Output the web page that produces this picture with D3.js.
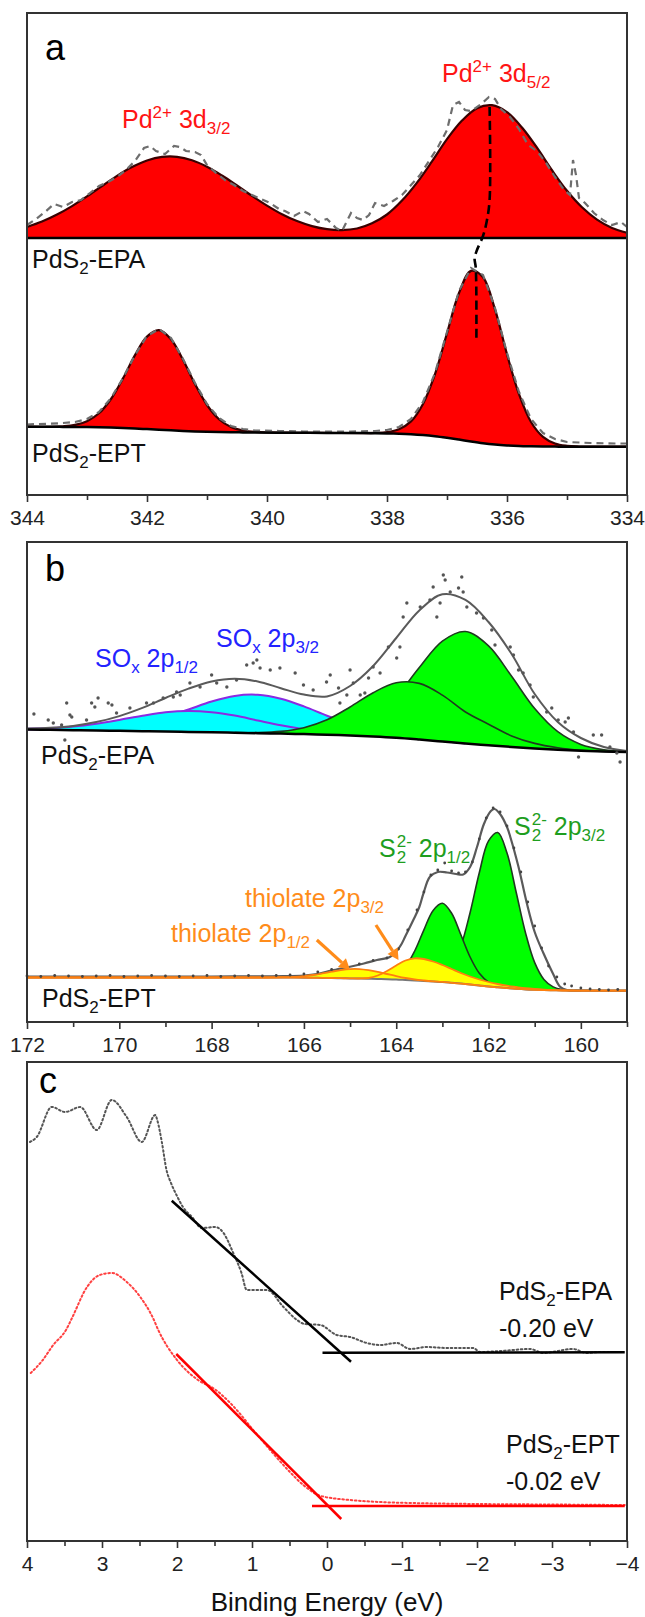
<!DOCTYPE html>
<html>
<head>
<meta charset="utf-8">
<script src="https://cdn.jsdelivr.net/npm/d3@7"></script>
<style>
  body { margin: 0; background: #fff; }
  svg { display: block; font-family: "Liberation Sans", Arial, sans-serif; }
  text { white-space: pre; }
</style>
</head>
<body>
<div id="chart"></div>
<script>
// ---- データ（強度は任意単位）----

// パネルa: Pd 3d
var aTicks = [344, 342, 340, 338, 336, 334];
var aMinor = [343, 341, 339, 337, 335];
var aEpaBase = [[344, 257], [334, 257]];
var aEpaFit = [[344, 268], [343.75, 273.4], [343.5, 280.4], [343.25, 288.9], [343, 298.6], [342.75, 309], [342.5, 319.1],
  [342.25, 327.9], [342, 334.5], [341.75, 338.1], [341.5, 338.2], [341.25, 334.8], [341, 328.3], [340.75, 319.5],
  [340.5, 309.5], [340.25, 299.1], [340, 289.4], [339.75, 280.8], [339.5, 273.9], [339.25, 268.9], [339, 265.8],
  [338.75, 264.9], [338.5, 266.5], [338.25, 271.7], [338, 280.5], [337.75, 294.4], [337.5, 312.4], [337.25, 333.6],
  [337, 355.8], [336.75, 374.4], [336.5, 386.8], [336.25, 389.8], [336, 382.9], [335.75, 367.5], [335.5, 347.3],
  [335.25, 324.8], [335, 304.2], [334.75, 287.7], [334.5, 275.4], [334.25, 267.1], [334, 262.3]];
var aEpaRaw = [[344, 270], [343.85, 276], [343.7, 283], [343.55, 291], [343.4, 288], [343.25, 293], [343.1, 295],
  [342.95, 302], [342.8, 309], [342.65, 313], [342.5, 318], [342.35, 325], [342.2, 334], [342.05, 347], [341.95, 349],
  [341.85, 344], [341.7, 341], [341.55, 349], [341.45, 348], [341.35, 344], [341.2, 343], [341.1, 340], [341, 330],
  [340.85, 322], [340.7, 315], [340.55, 310], [340.4, 304], [340.25, 300], [340.1, 296], [339.95, 292], [339.8, 286],
  [339.7, 284], [339.55, 279], [339.4, 284], [339.3, 281], [339.15, 273], [339, 276], [338.85, 267], [338.75, 264],
  [338.6, 282], [338.5, 277], [338.4, 275], [338.3, 280], [338.2, 292], [338.05, 289], [337.9, 294], [337.75, 300],
  [337.6, 310], [337.45, 320], [337.3, 334], [337.15, 348], [337, 365], [336.9, 390], [336.8, 393], [336.7, 385],
  [336.6, 384], [336.45, 390], [336.3, 398], [336.2, 396], [336.1, 386], [335.95, 378], [335.8, 366], [335.65, 350],
  [335.5, 344], [335.35, 332], [335.2, 318], [335.05, 305], [334.95, 300], [334.9, 335], [334.85, 320], [334.8, 297],
  [334.7, 292], [334.55, 282], [334.4, 275], [334.25, 270], [334.1, 273], [334, 268]];
var aEptE = [344, 343.6, 343.4, 343.2, 343, 342.8, 342.6, 342.4, 342.2, 342, 341.8, 341.6, 341.4, 341.2, 341, 340.8,
  340.6, 340.4, 340.2, 339.6, 339, 338.4, 338.2, 338, 337.8, 337.6, 337.4, 337.2, 337, 336.8, 336.6, 336.4, 336.2,
  336, 335.8, 335.6, 335.4, 335.2, 335, 334.8, 334.4, 334];
var aEptBase = [68.3, 68.2, 68.1, 68.0, 67.9, 67.7, 67.4, 67.0, 66.5, 65.9, 65.3, 64.7, 64.1, 63.6, 63.2, 62.9, 62.7,
  62.6, 62.5, 62.3, 62.1, 61.9, 61.8, 61.6, 61.3, 60.8, 60.0, 58.8, 57.2, 55.4, 53.5, 51.8, 50.5, 49.6, 49.0, 48.7,
  48.5, 48.4, 48.3, 48.3, 48.3, 48.3];
var aEptFit = [68.3, 68.2, 68.7, 70.1, 73.8, 81.7, 96.0, 116.6, 139.9, 158.4, 164.8, 155.7, 135.2, 110.9, 90.0, 75.8,
  68.0, 64.5, 63.1, 62.3, 62.1, 61.9, 62.1, 62.9, 65.8, 73.6, 91.1, 120.9, 161.8, 202.0, 224.1, 217.7, 185.6, 140.7,
  100.8, 73.0, 58.2, 51.5, 49.2, 48.5, 48.3, 48.3];
var aEptRaw = [[344, 70.5], [343.8, 71], [343.6, 71.3], [343.4, 72], [343.2, 73], [343, 76], [342.8, 83], [342.6, 97],
  [342.4, 117], [342.2, 140], [342, 159], [341.8, 166], [341.6, 157], [341.4, 136], [341.2, 112], [341, 91],
  [340.8, 77], [340.6, 69], [340.4, 66], [340.2, 64.5], [339.8, 64], [339.4, 63.5], [339, 63.5], [338.6, 63.5],
  [338.2, 64], [338, 65], [337.8, 68], [337.6, 76], [337.4, 93], [337.2, 122], [337, 163], [336.8, 204], [336.6, 227],
  [336.4, 220], [336.2, 187], [336, 142], [335.8, 103], [335.6, 76], [335.4, 62], [335.2, 56], [335, 53], [334.6, 52],
  [334.2, 51.5], [334, 51.5]];
// ピークシフトを示す破線
var aShift = [[336.29, 388], [336.29, 295], [336.34, 273], [336.40, 259], [336.50, 245], [336.54, 237],
  [336.52, 227], [336.51, 157]];

// パネルb: S 2p
var bTicks = [172, 170, 168, 166, 164, 162, 160];
var bMinor = [171, 169, 167, 165, 163, 161, 159];
var bEpaE = [172, 171.5, 171, 170.5, 170, 169.5, 169, 168.5, 168, 167.5, 167, 166.5, 166, 165.5, 165, 164.5, 164,
  163.5, 163, 162.5, 162, 161.5, 161, 160.5, 160, 159.5, 159];
var bEpaBase = [292.5, 292.2, 291.8, 291.5, 291.2, 290.8, 290.5, 290.1, 289.7, 289.3, 288.8, 288.4, 287.9, 287.3,
  286.6, 285.6, 284.3, 282.5, 280.5, 278.5, 276.8, 275.1, 273.6, 272.3, 271.2, 270.5, 270.1];
var bEpaSox32 = [292.5, 292.4, 292.4, 293.1, 295.0, 298.7, 304.8, 312.5, 320.5, 326.1, 327.2, 323.3, 315.6, 306.3,
  298.0, 291.6, 287.0, 283.6, 280.9, 278.6, null, null, null, null, null, null, null];
var bEpaSox12 = [293.3, 294.0, 295.5, 298.3, 302.1, 306.2, 309.7, 311.0, 309.8, 306.4, 301.5, 296.7, 292.8, 289.8,
  287.7, 286.0, 284.5, null, null, null, null, null, null, null, null, null, null];
var bEpaS32 = [null, null, null, null, null, null, null, null, null, null, null, null, 288.4, 289.2, 293.3, 304.0,
  325.2, 354.4, 380.9, 390.5, 376.1, 345.7, 313.4, 290.3, 277.6, 272.3, 270.5];
var bEpaS12 = [null, null, null, null, null, null, null, null, null, 289.4, 289.4, 290.6, 294.3, 302.2, 315.0, 329.3,
  339.2, 338.6, 326.9, 310.0, 297.8, 286.1, 278.6, 274.3, 271.8, 270.5, 270.1];
var bEpaFit = [293.4, 294.2, 296.1, 299.9, 305.9, 314.1, 324.0, 333.4, 340.6, 343.3, 340.5, 333.8, 327.4, 325.6,
  336, 356, 384, 411.6, 427.7, 422.1, 400, 368, 328, 300, 284, 275, 271];
var bEpaRaw = [[171.85, 308], [171.54, 302], [171.43, 299], [171.25, 297], [171.18, 282], [171.14, 319], [171.07, 307],
  [171.03, 305], [170.71, 302], [170.6, 319], [170.53, 315], [170.46, 324], [170.24, 319], [170.16, 317], [170.06, 309],
  [169.77, 314], [169.41, 319], [169.26, 319], [169.05, 324], [168.83, 325], [168.76, 330], [168.68, 327], [168.47, 339],
  [168.25, 335], [168.0, 347], [167.89, 339], [167.67, 335], [167.46, 342], [167.24, 357], [167.1, 359], [167.02, 362],
  [166.95, 354], [166.73, 352], [166.52, 354], [166.19, 349], [166.01, 337], [165.8, 332], [165.51, 340], [165.43, 347],
  [165.25, 334], [165.22, 319], [165.07, 327], [165.0, 352], [164.93, 339], [164.78, 327], [164.68, 329], [164.6, 344],
  [164.5, 355], [164.35, 349], [164.17, 375], [163.99, 364], [163.92, 375], [163.85, 405], [163.77, 419], [163.48, 415],
  [163.27, 422], [163.2, 435], [163.12, 405], [163.05, 419], [162.98, 447], [162.94, 442], [162.83, 430], [162.65, 434],
  [162.58, 445], [162.55, 430], [162.47, 415], [162.26, 409], [162.11, 404], [161.93, 392], [161.86, 377], [161.53, 375],
  [161.46, 367], [161.35, 352], [161.25, 349], [161.1, 337], [161.03, 325], [160.74, 310], [160.63, 314], [160.49, 302],
  [160.34, 300], [160.27, 304], [160.16, 290], [160.05, 265], [159.73, 287], [159.55, 287], [159.37, 275], [159.22, 269],
  [159.15, 260]];
var bEptE = [172, 168, 166.8, 166.4, 166.2, 166, 165.8, 165.6, 165.4, 165.2, 165, 164.8, 164.6, 164.4, 164.2, 164,
  163.8, 163.6, 163.4, 163.2, 163, 162.8, 162.6, 162.4, 162.2, 162, 161.8, 161.6, 161.4, 161.2, 161, 160.8, 160.6,
  160.4, 160, 159.5, 159];
var bEptBase = [44.5, 44.5, 44.5, 44.5, 44.4, 44.3, 44.2, 44.1, 44.0, 43.8, 43.6, 43.4, 43.2, 43.0, 42.8, 42.5, 42.0,
  41.5, 41.0, 40.5, 40.0, 39.2, 38.4, 37.5, 36.5, 35.5, 34.7, 33.9, 33.2, 32.6, 32.2, 31.9, 31.7, 31.5, 31.3, 31.3, 31.3];
var bEptThio12 = [44.5, 44.5, 44.5, 44.9, 45.2, 45.9, 47.0, 48.6, 50.3, 51.9, 52.9, 52.9, 51.8, 50.1, 48.0, 45.9, 44.0,
  42.5, 41.5, 40.7, 40.1, 39.2, 38.4, 37.5, 36.5, 35.5, 34.7, 33.9, 33.2, 32.6, 32.2, 31.9, 31.7, 31.5, 31.3, 31.3, 31.3];
var bEptThio32 = [44.5, 44.5, 44.5, 44.5, 44.4, 44.3, 44.2, 44.1, 44.0, 43.8, 43.6, 43.5, 44.0, 46.5, 51, 56.5, 61.5,
  63.7, 63, 60.5, 57, 53, 49, 45.5, 42.5, 40, 38, 36.3, 35, 33.8, 33, 32.4, 32, 31.7, 31.4, 31.3, 31.3];
var bEptS12 = [null, null, null, null, null, null, null, null, null, null, null, null, null, 43.3, 44.2, 47.4, 55.4,
  71.0, 92.2, 111.6, 118.7, 108.7, 87.2, 65.0, 48.7, 39.9, 36.0, 34.2, null, null, null, null, null, null, null, null, null];
var bEptS32 = [null, null, null, null, null, null, null, null, null, null, null, null, null, null, null, null, null,
  null, 41.4, 42.1, 45.6, 55.2, 75.7, 109.3, 149.3, 181.1, 189.5, 168.9, 129.5, 89.3, 59.4, 42.6, 35.1, 32.4, 31.3, null, null];
var bEptFit = [[172, 45.5], [168, 45.5], [166.45, 45.8], [166, 46.5], [165.72, 48], [165.4, 51.5], [165, 55.3],
  [164.7, 58.5], [164.42, 62], [164.13, 65.3], [163.92, 75.3], [163.8, 86], [163.63, 102], [163.5, 115], [163.41, 128.7],
  [163.27, 145.3], [163.1, 150], [162.9, 149.5], [162.7, 148], [162.55, 147.5], [162.4, 155], [162.25, 175], [162.1, 198],
  [161.95, 211], [161.87, 213], [161.75, 208], [161.6, 195], [161.53, 185.3], [161.35, 155], [161.17, 118.7], [161, 90],
  [160.81, 68.7], [160.6, 48], [160.45, 35.3], [160.3, 32], [160, 31.6], [159, 31.4]];
var bEptRaw = [[172, 46], [171.7, 45.5], [171.4, 46.5], [171.1, 46], [170.8, 45.5], [170.5, 46], [170.2, 46.5],
  [169.9, 45.5], [169.6, 46], [169.3, 46.5], [169, 46], [168.7, 45.5], [168.4, 46], [168.1, 46.5], [167.8, 45.5],
  [167.5, 46], [167.2, 46.5], [166.9, 46], [166.6, 46.5], [166.3, 47], [166, 48], [165.7, 50], [165.4, 52.5], [165.1, 55],
  [164.8, 58], [164.5, 61.5], [164.2, 64], [163.95, 73], [163.75, 92], [163.55, 112], [163.4, 130], [163.25, 147],
  [163.1, 152], [162.95, 159], [162.8, 151], [162.65, 149], [162.5, 150], [162.35, 160], [162.2, 183], [162.05, 204],
  [161.9, 214], [161.75, 210], [161.6, 196], [161.45, 174], [161.3, 150], [161.15, 120], [161, 96], [160.85, 74],
  [160.7, 56], [160.52, 45], [160.35, 38], [160.2, 36], [160, 34], [159.8, 33], [159.6, 32.5], [159.4, 32], [159.2, 32.5]];
// 矢印（tail → head、データ座標）
var bArrows = [[[165.72, 82], [165.0, 52]], [[164.44, 97], [163.95, 62]]];

// パネルc: 価電子帯
var cTicks = [4, 3, 2, 1, 0, -1, -2, -3, -4];
var cMinor = [3.5, 2.5, 1.5, 0.5, -0.5, -1.5, -2.5, -3.5];
var cEpaRaw = [[3.96, 399], [3.87, 404], [3.67, 434], [3.49, 429], [3.29, 434], [3.07, 411], [2.87, 441], [2.67, 424],
  [2.47, 399], [2.29, 426], [2.26, 420], [2.2, 398], [2.14, 371], [2.08, 358], [2.0, 345], [1.92, 334], [1.8, 324],
  [1.67, 313], [1.49, 314], [1.38, 308], [1.25, 288], [1.14, 268], [1.07, 251], [0.8, 251], [0.58, 234], [0.4, 221],
  [0.3, 217], [0.09, 216], [-0.13, 206], [-0.31, 204], [-0.53, 198], [-0.71, 196], [-0.93, 198], [-1.11, 192],
  [-1.33, 194], [-1.6, 193], [-1.95, 193], [-2.04, 189], [-2.31, 190], [-2.71, 192], [-2.88, 188], [-3.28, 192],
  [-3.46, 188], [-3.64, 189], [-3.77, 189]];
var cEptRaw = [[3.95, 168], [3.8, 180], [3.65, 196], [3.48, 211], [3.4, 223], [3.2, 254], [3.03, 266], [2.87, 268],
  [2.67, 259], [2.49, 244], [2.32, 223], [2.25, 211], [2.0, 181], [1.72, 161], [1.5, 152], [1.29, 138], [0.95, 108],
  [0.7, 86], [0.52, 71], [0.3, 55], [0.08, 45], [-0.31, 41], [-0.7, 39], [-1.13, 38], [-2, 37], [-3, 36.5], [-3.97, 36]];
var cEpaFitLine = [[2.07, 340.3], [-0.32, 179.3]];
var cEpaBaseLine = [[0.06, 188.3], [-3.97, 188.8]];
var cEptFitLine = [[2.01, 187], [-0.19, 22]];
var cEptBaseLine = [[0.2, 35], [-3.97, 35]];

// ---- レイアウト ----
var width = 645;
var height = 1617;
var frameLeft = 27;
var frameRight = 627;
var fontSize = 25;
var tickFont = 21;
var letterFont = 36;

var svg = d3.select('#chart').append('svg')
  .attr('width', width).attr('height', height);

// 上付き・下付きを含むラベル
function addLabel(g, x, y, segs, size, color) {
  var t = g.append('text').attr('x', x).attr('y', y)
    .attr('font-size', size).attr('fill', color);
  var shift = 0;
  segs.forEach(function(s) {
    var target = s[1] === 'sup' ? -0.4 * size : s[1] === 'sub' ? 0.24 * size : 0;
    var sp = t.append('tspan').attr('dy', target - shift).text(s[0]);
    if (s[1]) sp.attr('font-size', size * 0.68);
    shift = target;
  });
  return t;
}

// S₂²⁻ 形式（上下に重ねる）
function addStacked(g, x, y, size, color, tail) {
  var s = g.append('text').attr('x', x).attr('y', y).attr('font-size', size).attr('fill', color).text('S');
  var w = s.node().getComputedTextLength();
  var sup = g.append('text').attr('x', x + w + 1).attr('y', y - 0.42 * size)
    .attr('font-size', size * 0.68).attr('fill', color).text('2-');
  g.append('text').attr('x', x + w + 1).attr('y', y + 0.24 * size)
    .attr('font-size', size * 0.68).attr('fill', color).text('2');
  var w2 = sup.node().getComputedTextLength();
  addLabel(g, x + w + 1 + w2, y, [[' 2p'], [tail, 'sub']], size, color);
}

// 下軸（主目盛りと補助目盛り）
function drawAxis(g, x, y0, major, minor) {
  g.append('g').attr('transform', 'translate(0,' + y0 + ')')
    .call(d3.axisBottom(x).tickValues(minor).tickSize(5).tickFormat(''))
    .call(function(s) { s.select('.domain').remove(); })
    .selectAll('line').attr('stroke', '#333').attr('stroke-width', 1.6);
  var ax = g.append('g').attr('transform', 'translate(0,' + y0 + ')')
    .call(d3.axisBottom(x).tickValues(major).tickSize(7).tickPadding(8).tickFormat(d3.format('d')))
    .call(function(s) { s.select('.domain').remove(); });
  ax.selectAll('line').attr('stroke', '#333').attr('stroke-width', 1.6);
  ax.selectAll('text').attr('font-size', tickFont).attr('fill', '#222')
    .attr('font-family', '"Liberation Sans", Arial, sans-serif');
}

function drawFrame(g, top, bottom) {
  g.append('rect')
    .attr('x', frameLeft).attr('y', top)
    .attr('width', frameRight - frameLeft).attr('height', bottom - top)
    .attr('fill', 'none').attr('stroke', '#333').attr('stroke-width', 2);
}

// ---- パネルa ----
(function() {
  var top = 13, bottom = 495;
  var x = d3.scaleLinear().domain([344, 334]).range([frameLeft, frameRight]);
  var y = d3.scaleLinear().domain([0, bottom - top]).range([bottom, top]);
  var g = svg.append('g').attr('class', 'panelA');

  var smooth = d3.curveCatmullRom;
  var base = aEpaBase[0][1];

  // EPA: フィット領域
  g.append('path').datum(aEpaFit)
    .attr('d', d3.area().curve(smooth).x(function(d) { return x(d[0]); })
      .y0(y(base)).y1(function(d) { return y(d[1]); }))
    .attr('fill', '#ff0000');
  g.append('path').datum(aEpaFit)
    .attr('d', d3.line().curve(smooth).x(function(d) { return x(d[0]); }).y(function(d) { return y(d[1]); }))
    .attr('fill', 'none').attr('stroke', '#3a0000').attr('stroke-width', 2.2);
  g.append('path').datum(aEpaRaw)
    .attr('d', d3.line().x(function(d) { return x(d[0]); }).y(function(d) { return y(d[1]); }))
    .attr('fill', 'none').attr('stroke', '#6e6e6e').attr('stroke-width', 2.2).attr('stroke-dasharray', '7,5');
  g.append('path').datum(aEpaBase)
    .attr('d', d3.line().x(function(d) { return x(d[0]); }).y(function(d) { return y(d[1]); }))
    .attr('stroke', '#000').attr('stroke-width', 2.5);

  // EPT
  var ept = aEptE.map(function(e, i) { return [e, aEptBase[i], aEptFit[i]]; });
  g.append('path').datum(ept)
    .attr('d', d3.area().curve(smooth).x(function(d) { return x(d[0]); })
      .y0(function(d) { return y(d[1]); }).y1(function(d) { return y(d[2]); }))
    .attr('fill', '#ff0000');
  g.append('path').datum(ept)
    .attr('d', d3.line().curve(smooth).x(function(d) { return x(d[0]); }).y(function(d) { return y(d[2]); }))
    .attr('fill', 'none').attr('stroke', '#3a0000').attr('stroke-width', 2.2);
  g.append('path').datum(aEptRaw)
    .attr('d', d3.line().x(function(d) { return x(d[0]); }).y(function(d) { return y(d[1]); }))
    .attr('fill', 'none').attr('stroke', '#6e6e6e').attr('stroke-width', 2.2).attr('stroke-dasharray', '7,5');
  g.append('path').datum(ept)
    .attr('d', d3.line().curve(smooth).x(function(d) { return x(d[0]); }).y(function(d) { return y(d[1]); }))
    .attr('fill', 'none').attr('stroke', '#000').attr('stroke-width', 2.5);

  // シフトの破線
  g.append('path').datum(aShift)
    .attr('d', d3.line().curve(smooth).x(function(d) { return x(d[0]); }).y(function(d) { return y(d[1]); }))
    .attr('fill', 'none').attr('stroke', '#000').attr('stroke-width', 2.6).attr('stroke-dasharray', '9,5');

  drawAxis(g, x, bottom, aTicks, aMinor);
  drawFrame(g, top, bottom);

  g.append('text').attr('x', 45).attr('y', 60).attr('font-size', letterFont).text('a');
  addLabel(g, 122, 128, [['Pd'], ['2+', 'sup'], [' 3d'], ['3/2', 'sub']], fontSize, '#ff1414');
  addLabel(g, 442, 82, [['Pd'], ['2+', 'sup'], [' 3d'], ['5/2', 'sub']], fontSize, '#ff1414');
  addLabel(g, 32, 268, [['PdS'], ['2', 'sub'], ['-EPA']], fontSize, '#111');
  addLabel(g, 32, 462, [['PdS'], ['2', 'sub'], ['-EPT']], fontSize, '#111');
})();

// ---- パネルb ----
(function() {
  var top = 542, bottom = 1022;
  var x = d3.scaleLinear().domain([172, 159]).range([frameLeft, frameRight]);
  var y = d3.scaleLinear().domain([0, bottom - top]).range([bottom, top]);
  var g = svg.append('g').attr('class', 'panelB');
  var smooth = d3.curveCatmullRom;

  function comp(E, base, vals) {
    return E.map(function(e, i) { return [e, base[i], vals[i]]; })
      .filter(function(d) { return d[2] !== null; });
  }
  function drawComp(data, fill, stroke, sw) {
    g.append('path').datum(data)
      .attr('d', d3.area().curve(smooth).x(function(d) { return x(d[0]); })
        .y0(function(d) { return y(d[1]); }).y1(function(d) { return y(d[2]); }))
      .attr('fill', fill);
    g.append('path').datum(data)
      .attr('d', d3.line().curve(smooth).x(function(d) { return x(d[0]); }).y(function(d) { return y(d[2]); }))
      .attr('fill', 'none').attr('stroke', stroke).attr('stroke-width', sw);
  }
  var line = d3.line().curve(smooth).x(function(d) { return x(d[0]); }).y(function(d) { return y(d[1]); });

  // EPA
  drawComp(comp(bEpaE, bEpaBase, bEpaSox32), '#00ffff', '#8a2be2', 2);
  drawComp(comp(bEpaE, bEpaBase, bEpaSox12), '#00ffff', '#8a2be2', 2);
  drawComp(comp(bEpaE, bEpaBase, bEpaS32), '#00ff00', '#1f3a1f', 1.6);
  drawComp(comp(bEpaE, bEpaBase, bEpaS12), '#00ff00', '#1f3a1f', 1.6);
  g.append('path').datum(bEpaE.map(function(e, i) { return [e, bEpaFit[i]]; }))
    .attr('d', line).attr('fill', 'none').attr('stroke', '#5a5a5a').attr('stroke-width', 2);
  g.append('path').datum(bEpaE.map(function(e, i) { return [e, bEpaBase[i]]; }))
    .attr('d', line).attr('fill', 'none').attr('stroke', '#000').attr('stroke-width', 2.5);
  g.selectAll('.epaDot').data(bEpaRaw).enter().append('circle')
    .attr('class', 'epaDot')
    .attr('cx', function(d) { return x(d[0]); }).attr('cy', function(d) { return y(d[1]); })
    .attr('r', 1.7).attr('fill', '#555');

  // EPT
  drawComp(comp(bEptE, bEptBase, bEptS32), '#00ff00', '#1f3a1f', 1.6);
  drawComp(comp(bEptE, bEptBase, bEptS12), '#00ff00', '#1f3a1f', 1.6);
  var t32 = comp(bEptE, bEptBase, bEptThio32);
  var t12 = comp(bEptE, bEptBase, bEptThio12);
  g.append('path').datum(t32)
    .attr('d', d3.area().curve(smooth).x(function(d) { return x(d[0]); })
      .y0(function(d) { return y(d[1]); }).y1(function(d) { return y(d[2]); }))
    .attr('fill', '#ffff00');
  g.append('path').datum(t12)
    .attr('d', d3.area().curve(smooth).x(function(d) { return x(d[0]); })
      .y0(function(d) { return y(d[1]); }).y1(function(d) { return y(d[2]); }))
    .attr('fill', '#ffff00');
  g.append('path').datum(bEptFit)
    .attr('d', line).attr('fill', 'none').attr('stroke', '#5a5a5a').attr('stroke-width', 2.2);
  g.append('path').datum(bEptE.map(function(e, i) { return [e, bEptBase[i]]; }))
    .attr('d', line).attr('fill', 'none').attr('stroke', '#777').attr('stroke-width', 2);
  [t32, t12].forEach(function(t) {
    g.append('path').datum(t)
      .attr('d', d3.line().curve(smooth).x(function(d) { return x(d[0]); }).y(function(d) { return y(d[2]); }))
      .attr('fill', 'none').attr('stroke', '#ff7f0e').attr('stroke-width', 1.8);
  });
  g.selectAll('.eptDot').data(bEptRaw).enter().append('circle')
    .attr('class', 'eptDot')
    .attr('cx', function(d) { return x(d[0]); }).attr('cy', function(d) { return y(d[1]); })
    .attr('r', 1.4).attr('fill', '#444');

  // 矢印
  bArrows.forEach(function(a) {
    var x0 = x(a[0][0]), y0 = y(a[0][1]), x1 = x(a[1][0]), y1 = y(a[1][1]);
    var ang = Math.atan2(y1 - y0, x1 - x0);
    var len = 11, half = 6;
    var bx = x1 - len * Math.cos(ang), by = y1 - len * Math.sin(ang);
    g.append('line').attr('x1', x0).attr('y1', y0).attr('x2', bx).attr('y2', by)
      .attr('stroke', '#ff8c1a').attr('stroke-width', 3.2);
    g.append('path')
      .attr('d', 'M' + x1 + ',' + y1 +
        'L' + (bx + half * Math.sin(ang)) + ',' + (by - half * Math.cos(ang)) +
        'L' + (bx - half * Math.sin(ang)) + ',' + (by + half * Math.cos(ang)) + 'Z')
      .attr('fill', '#ff8c1a');
  });

  drawAxis(g, x, bottom, bTicks, bMinor);
  drawFrame(g, top, bottom);

  g.append('text').attr('x', 45).attr('y', 581).attr('font-size', letterFont).text('b');
  addLabel(g, 95, 667, [['SO'], ['x', 'sub'], [' 2p'], ['1/2', 'sub']], fontSize, '#2323ff');
  addLabel(g, 216, 647, [['SO'], ['x', 'sub'], [' 2p'], ['3/2', 'sub']], fontSize, '#2323ff');
  addLabel(g, 41, 764, [['PdS'], ['2', 'sub'], ['-EPA']], fontSize, '#111');
  addStacked(g, 379, 857, fontSize, '#1e9e1e', '1/2');
  addStacked(g, 514, 835, fontSize, '#1e9e1e', '3/2');
  addLabel(g, 245, 907, [['thiolate 2p'], ['3/2', 'sub']], fontSize, '#ff8c1a');
  addLabel(g, 171, 942, [['thiolate 2p'], ['1/2', 'sub']], fontSize, '#ff8c1a');
  addLabel(g, 42, 1007, [['PdS'], ['2', 'sub'], ['-EPT']], fontSize, '#111');
})();

// ---- パネルc ----
(function() {
  var top = 1062, bottom = 1541;
  var x = d3.scaleLinear().domain([4, -4]).range([frameLeft, frameRight]);
  var y = d3.scaleLinear().domain([0, bottom - top]).range([bottom, top]);
  var g = svg.append('g').attr('class', 'panelC');
  var line = d3.line().x(function(d) { return x(d[0]); }).y(function(d) { return y(d[1]); });

  g.append('path').datum(cEpaRaw).attr('d', line.curve(d3.curveMonotoneX))
    .attr('fill', 'none').attr('stroke', '#555').attr('stroke-width', 2)
    .attr('stroke-dasharray', '1.6,2.6').attr('stroke-linecap', 'round');
  g.append('path').datum(cEptRaw).attr('d', line.curve(d3.curveMonotoneX))
    .attr('fill', 'none').attr('stroke', '#ff4040').attr('stroke-width', 2)
    .attr('stroke-dasharray', '1.6,2.6').attr('stroke-linecap', 'round');

  line.curve(d3.curveLinear);
  g.append('path').datum(cEpaFitLine).attr('d', line).attr('stroke', '#000').attr('stroke-width', 2.5);
  g.append('path').datum(cEpaBaseLine).attr('d', line).attr('stroke', '#000').attr('stroke-width', 2.5);
  g.append('path').datum(cEptFitLine).attr('d', line).attr('stroke', '#ff0000').attr('stroke-width', 2.5);
  g.append('path').datum(cEptBaseLine).attr('d', line).attr('stroke', '#ff0000').attr('stroke-width', 2.5);

  drawAxis(g, x, bottom, cTicks, cMinor);
  drawFrame(g, top, bottom);

  g.append('text').attr('x', 39).attr('y', 1093).attr('font-size', letterFont).text('c');
  addLabel(g, 499, 1300, [['PdS'], ['2', 'sub'], ['-EPA']], fontSize, '#111');
  g.append('text').attr('x', 499).attr('y', 1337).attr('font-size', fontSize).attr('fill', '#111').text('-0.20 eV');
  addLabel(g, 506, 1453, [['PdS'], ['2', 'sub'], ['-EPT']], fontSize, '#111');
  g.append('text').attr('x', 506).attr('y', 1490).attr('font-size', fontSize).attr('fill', '#111').text('-0.02 eV');

  g.append('text').attr('x', (frameLeft + frameRight) / 2).attr('y', 1611)
    .attr('text-anchor', 'middle').attr('font-size', 26).attr('fill', '#111')
    .text('Binding Energy (eV)');
})();
</script>
</body>
</html>
